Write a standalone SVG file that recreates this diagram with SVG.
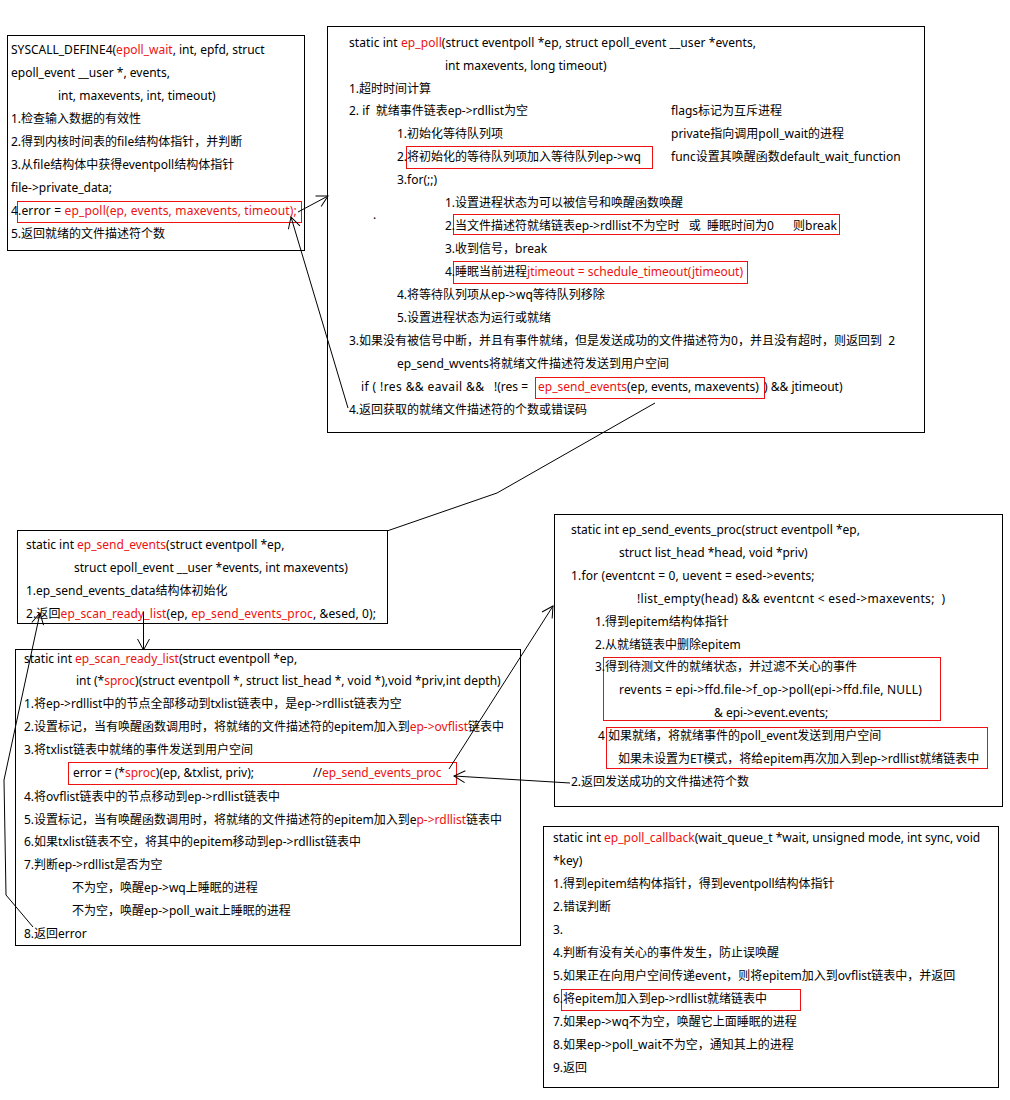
<svg xmlns="http://www.w3.org/2000/svg" width="1010" height="1100" viewBox="0 0 1010 1100">
<style>
text{font-family:"Noto Sans","Noto Sans CJK SC",sans-serif;font-size:12px;fill:#000;white-space:pre;}
.r{fill:#ee1111;}
.box{fill:#fff;stroke:#000;stroke-width:1;}
.hl{fill:none;stroke:#ee1111;stroke-width:1;}
.ln{fill:none;stroke:#000;stroke-width:1;}
</style>
<defs>
<marker id="ah" markerUnits="userSpaceOnUse" markerWidth="14" markerHeight="14" refX="12" refY="7" orient="auto">
<path d="M1,1 L12,7 L1,13" fill="none" stroke="#000" stroke-width="1"/>
</marker>
</defs>
<rect x="0" y="0" width="1010" height="1100" fill="#fff"/>

<g id="epoll_wait">
<rect class="box" x="7.5" y="35.5" width="297" height="215"/>
<rect class="hl" x="17.5" y="201.5" width="284" height="21"/>
<text x="11" y="54">SYSCALL_DEFINE4(<tspan class="r">epoll_wait</tspan>, int, epfd, struct</text>
<text x="11" y="77">epoll_event __user *, events,</text>
<text x="58" y="100">int, maxevents, int, timeout)</text>
<text x="11" y="123">1.检查输入数据的有效性</text>
<text x="11" y="146">2.得到内核时间表的file结构体指针，并判断</text>
<text x="11" y="169">3.从file结构体中获得eventpoll结构体指针</text>
<text x="11" y="192">file-&gt;private_data;</text>
<text x="11" y="215" style="letter-spacing:0.16px">4.error = <tspan class="r">ep_poll(ep, events, maxevents, timeout);</tspan></text>
<text x="11" y="238">5.返回就绪的文件描述符个数</text>
</g>

<g id="ep_poll">
<rect class="box" x="327.5" y="26.5" width="597" height="406"/>
<rect class="hl" x="406.5" y="146.5" width="246" height="22"/>
<rect class="hl" x="453.5" y="214.5" width="386" height="20"/>
<rect class="hl" x="453.5" y="261.5" width="294" height="22"/>
<rect class="hl" x="535.5" y="377.5" width="229" height="21"/>
<text x="349" y="47" style="letter-spacing:0.08px">static int <tspan class="r">ep_poll</tspan>(struct eventpoll *ep, struct epoll_event __user *events,</text>
<text x="445" y="70">int maxevents, long timeout)</text>
<text x="349" y="93">1.超时时间计算</text>
<text x="349" y="115">2. if  就绪事件链表ep-&gt;rdllist为空</text>
<text x="671" y="115">flags标记为互斥进程</text>
<text x="397" y="138">1.初始化等待队列项</text>
<text x="671" y="138">private指向调用poll_wait的进程</text>
<text x="397" y="161">2.将初始化的等待队列项加入等待队列ep-&gt;wq</text>
<text x="671" y="161">func设置其唤醒函数default_wait_function</text>
<text x="397" y="184">3.for(;;)</text>
<text x="445" y="207">1.设置进程状态为可以被信号和唤醒函数唤醒</text>
<text x="373" y="219">.</text>
<text x="445" y="230">2.当文件描述符就绪链表ep-&gt;rdllist不为空时   或  睡眠时间为0<tspan x="793">则break</tspan></text>
<text x="445" y="253">3.收到信号，break</text>
<text x="445" y="276">4.睡眠当前进程<tspan class="r">jtimeout = schedule_timeout(jtimeout)</tspan></text>
<text x="397" y="299">4.将等待队列项从ep-&gt;wq等待队列移除</text>
<text x="397" y="322">5.设置进程状态为运行或就绪</text>
<text x="349" y="345">3.如果没有被信号中断，并且有事件就绪，但是发送成功的文件描述符为0，并且没有超时，则返回到  2</text>
<text x="397" y="368">ep_send_wvents将就绪文件描述符发送到用户空间</text>
<text x="361" y="391" style="letter-spacing:0.4px">if ( !res &amp;&amp; eavail &amp;&amp;<tspan x="494" style="letter-spacing:0">!(res =</tspan><tspan x="538" class="r" style="letter-spacing:0">ep_send_events</tspan><tspan style="letter-spacing:0">(ep, events, maxevents)</tspan><tspan x="764" style="letter-spacing:0">) &amp;&amp; jtimeout)</tspan></text>
<text x="349" y="414">4.返回获取的就绪文件描述符的个数或错误码</text>
</g>

<g id="ep_send_events">
<rect class="box" x="17.5" y="530.5" width="370" height="93"/>
<text x="26" y="549">static int <tspan class="r">ep_send_events</tspan>(struct eventpoll *ep,</text>
<text x="74" y="572">struct epoll_event __user *events, int maxevents)</text>
<text x="26" y="595">1.ep_send_events_data结构体初始化</text>
<text x="26" y="618" style="letter-spacing:0.12px">2.返回<tspan class="r">ep_scan_ready_list</tspan>(ep, <tspan class="r">ep_send_events_proc</tspan>, &amp;esed, 0);</text>
</g>

<g id="ep_scan_ready_list">
<rect class="box" x="15.5" y="649.5" width="505" height="296"/>
<rect class="hl" x="68.5" y="762.5" width="388" height="22"/>
<text x="24" y="663">static int <tspan class="r">ep_scan_ready_list</tspan>(struct eventpoll *ep,</text>
<text x="76" y="685">int (*<tspan class="r">sproc</tspan>)(struct eventpoll *, struct list_head *, void *),void *priv,int depth)</text>
<text x="24" y="708">1.将ep-&gt;rdllist中的节点全部移动到txlist链表中，是ep-&gt;rdllist链表为空</text>
<text x="24" y="731">2.设置标记，当有唤醒函数调用时，将就绪的文件描述符的epitem加入到<tspan class="r">ep-&gt;ovflist</tspan>链表中</text>
<text x="24" y="754">3.将txlist链表中就绪的事件发送到用户空间</text>
<text x="73" y="777">error = (*<tspan class="r">sproc</tspan>)(ep, &amp;txlist, priv);</text>
<text x="313" y="777">//<tspan class="r">ep_send_events_proc</tspan></text>
<text x="24" y="801">4.将ovflist链表中的节点移动到ep-&gt;rdllist链表中</text>
<text x="24" y="824">5.设置标记，当有唤醒函数调用时，将就绪的文件描述符的epitem加入到e<tspan class="r">p-&gt;rdllist</tspan>链表中</text>
<text x="24" y="846">6.如果txlist链表不空，将其中的epitem移动到ep-&gt;rdllist链表中</text>
<text x="24" y="869">7.判断ep-&gt;rdllist是否为空</text>
<text x="72" y="892">不为空，唤醒ep-&gt;wq上睡眠的进程</text>
<text x="72" y="915">不为空，唤醒ep-&gt;poll_wait上睡眠的进程</text>
<text x="24" y="938">8.返回error</text>
</g>

<g id="ep_send_events_proc">
<rect class="box" x="554.5" y="514.5" width="448" height="292"/>
<rect class="hl" x="603.5" y="657.5" width="337" height="63"/>
<rect class="hl" x="606.5" y="727.5" width="381" height="41"/>
<text x="571" y="534">static int ep_send_events_proc(struct eventpoll *ep,</text>
<text x="619" y="557">struct list_head *head, void *priv)</text>
<text x="571" y="580" style="letter-spacing:0.15px">1.for (eventcnt = 0, uevent = esed-&gt;events;</text>
<text x="637" y="603" style="letter-spacing:0.3px">!list_empty(head) &amp;&amp; eventcnt &lt; esed-&gt;maxevents;  )</text>
<text x="595" y="626">1.得到epitem结构体指针</text>
<text x="595" y="649">2.从就绪链表中删除epitem</text>
<text x="595" y="671">3.得到待测文件的就绪状态，并过滤不关心的事件</text>
<text x="619" y="694" style="letter-spacing:0.18px">revents = epi-&gt;ffd.file-&gt;f_op-&gt;poll(epi-&gt;ffd.file, NULL)</text>
<text x="714" y="717">&amp; epi-&gt;event.events;</text>
<text x="598" y="740">4 如果就绪，将就绪事件的poll_event发送到用户空间</text>
<text x="618" y="763">如果未设置为ET模式，将给epitem再次加入到ep-&gt;rdllist就绪链表中</text>
<text x="571" y="786">2.返回发送成功的文件描述符个数</text>
</g>

<g id="ep_poll_callback">
<rect class="box" x="543.5" y="826.5" width="455" height="261"/>
<rect class="hl" x="561.5" y="989.5" width="239" height="21"/>
<text x="553" y="842">static int <tspan class="r">ep_poll_callback</tspan>(wait_queue_t *wait, unsigned mode, int sync, void</text>
<text x="553" y="865">*key)</text>
<text x="553" y="888">1.得到epitem结构体指针，得到eventpoll结构体指针</text>
<text x="553" y="911">2.错误判断</text>
<text x="553" y="934">3.</text>
<text x="553" y="957">4.判断有没有关心的事件发生，防止误唤醒</text>
<text x="553" y="980">5.如果正在向用户空间传递event，则将epitem加入到ovflist链表中，并返回</text>
<text x="553" y="1003">6.将epitem加入到ep-&gt;rdllist就绪链表中</text>
<text x="553" y="1026">7.如果ep-&gt;wq不为空，唤醒它上面睡眠的进程</text>
<text x="553" y="1049">8.如果ep-&gt;poll_wait不为空，通知其上的进程</text>
<text x="553" y="1072">9.返回</text>
</g>

<g id="connectors">
<line class="ln" x1="298" y1="212" x2="328" y2="196" marker-end="url(#ah)"/>
<line class="ln" x1="348" y1="408" x2="291" y2="217" marker-end="url(#ah)"/>
<polyline class="ln" points="655,403 497,493 387,531"/>
<line class="ln" x1="143.5" y1="612" x2="143.5" y2="650" marker-end="url(#ah)"/>
<polyline class="ln" points="33,927 6,895 4,780 40,613" marker-end="url(#ah)"/>
<line class="ln" x1="449" y1="769" x2="553" y2="606" marker-end="url(#ah)"/>
<line class="ln" x1="570" y1="783" x2="454" y2="776" marker-end="url(#ah)"/>
</g>
</svg>
